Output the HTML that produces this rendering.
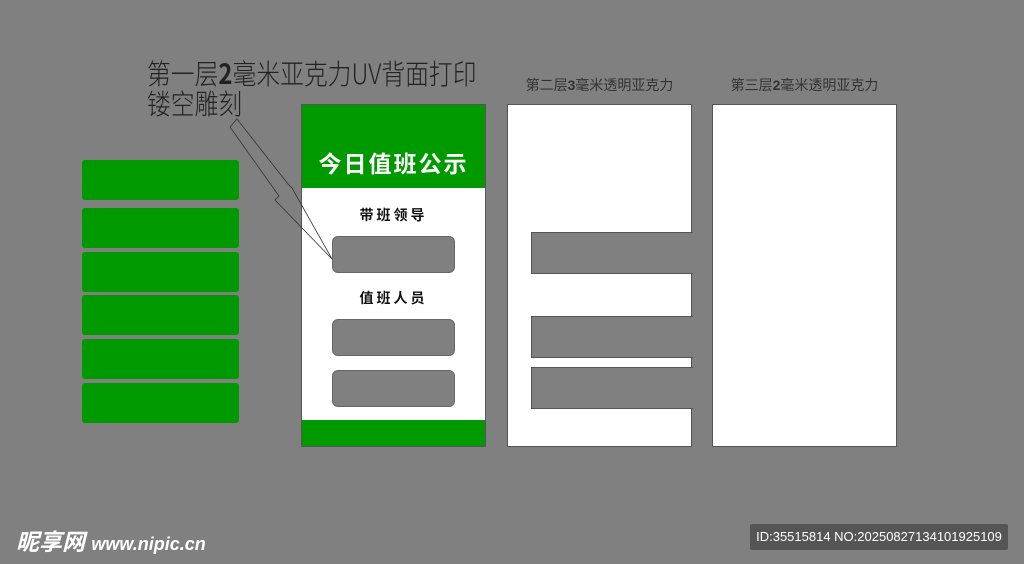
<!DOCTYPE html>
<html><head><meta charset="utf-8"><style>
body{margin:0;width:1024px;height:564px;background:#808080;position:relative;overflow:hidden;font-family:"Liberation Sans","Noto Sans CJK SC",sans-serif}
.a{position:absolute}
.g{background:#009900;border-radius:3px;left:82px;width:157px;height:40px}
.slot{background:#808080;border:1px solid #666;border-radius:6px;left:332px;width:121px;height:35px}
.w{background:#fff;border:1px solid #555;box-sizing:border-box}
.cut{background:#808080;border:1px solid #555;border-right:none;left:531px;width:162px;height:42px;box-sizing:border-box}
</style></head><body>
<div class="a" style="left:147px;top:58px;font-size:28px;line-height:30px;color:#222;font-family:'Noto Sans CJK SC',sans-serif;font-weight:300;transform:scaleX(0.85);transform-origin:left top;white-space:nowrap">第一层<b style="font-weight:700">2</b>毫米亚克力UV背面打印<br>镂空雕刻</div>
<div class="a g" style="top:160px"></div>
<div class="a g" style="top:208px"></div>
<div class="a g" style="top:252px"></div>
<div class="a g" style="top:295px"></div>
<div class="a g" style="top:339px"></div>
<div class="a g" style="top:383px"></div>
<div class="a w" style="left:301px;top:104px;width:185px;height:343px"></div>
<div class="a" style="left:302px;top:105px;width:183px;height:83px;background:#009900"></div>
<div class="a" style="left:302px;top:420px;width:183px;height:26px;background:#009900"></div>
<div class="a" style="left:302px;top:145px;width:183px;text-align:center;color:#fff;font-size:23px;font-weight:bold;letter-spacing:2px">今日值班公示</div>
<div class="a" style="left:302px;top:205px;width:183px;text-align:center;color:#111;font-size:14px;font-weight:bold;letter-spacing:3px">带班领导</div>
<div class="a" style="left:302px;top:288px;width:183px;text-align:center;color:#111;font-size:14px;font-weight:bold;letter-spacing:3px">值班人员</div>
<div class="a slot" style="top:236px"></div>
<div class="a slot" style="top:319px"></div>
<div class="a slot" style="top:370px"></div>
<div class="a" style="left:507px;top:75px;width:185px;text-align:center;font-size:14px;color:#333">第二层<b>3</b>毫米透明亚克力</div>
<div class="a" style="left:712px;top:75px;width:185px;text-align:center;font-size:14px;color:#333">第三层<b>2</b>毫米透明亚克力</div>
<div class="a w" style="left:507px;top:104px;width:185px;height:343px"></div>
<div class="a" style="left:692px;top:103px;width:20px;height:346px;background:#808080"></div>
<div class="a" style="left:691px;top:104px;width:1px;height:342px;background:#555"></div>
<div class="a cut" style="top:232px"></div>
<div class="a cut" style="top:316px"></div>
<div class="a cut" style="top:367px"></div>
<div class="a w" style="left:712px;top:104px;width:185px;height:343px"></div>
<svg class="a" style="left:0;top:0" width="1024" height="564"><polygon points="230,127 237,119 288,184 292,188 332,259 275,200 279,196" fill="none" stroke="#333" stroke-width="0.8"/></svg>
<div class="a" style="left:16px;top:523px;color:#fff;font-size:23px;font-weight:bold;font-style:italic">昵享网 <span style="font-size:18px">www.nipic.cn</span></div>
<div class="a" style="left:750px;top:524px;width:258px;height:26px;background:#555;border-radius:2px;color:#fff;font-size:13px;line-height:26px;text-align:center">ID:35515814 NO:20250827134101925109</div>
</body></html>
